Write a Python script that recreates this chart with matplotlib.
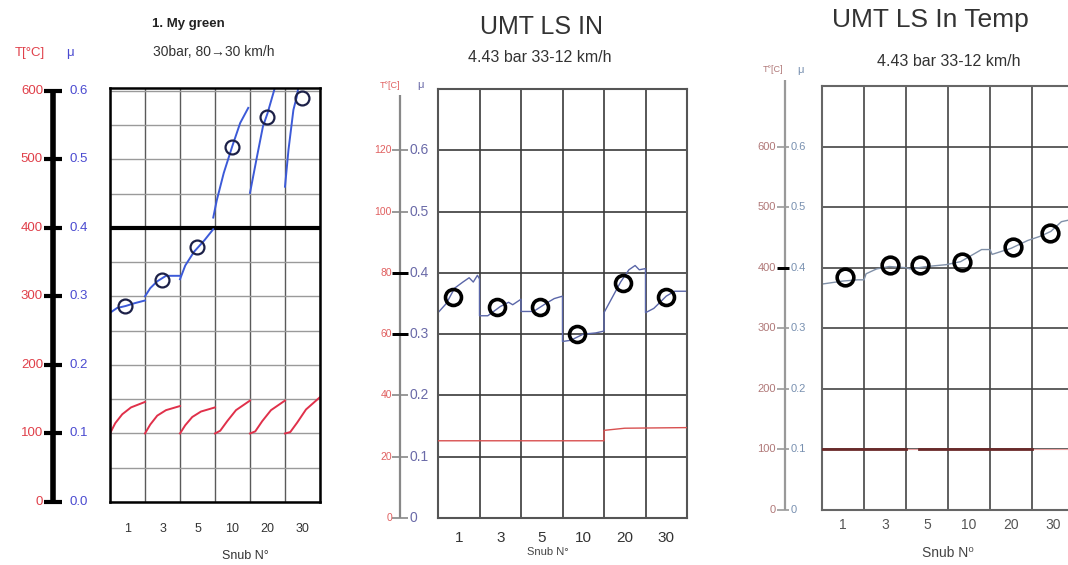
import matplotlib
matplotlib.use("Agg")
import matplotlib.pyplot as plt
from matplotlib.transforms import blended_transform_factory

W, H = 1068, 565
plt.rcParams['font.family'] = ['Liberation Sans', 'DejaVu Sans']

snubs = ["1", "3", "5", "10", "20", "30"]

# ---- panel 1 : My green (mu + disc temperature per snub)
p1_mu_ticks = [0.0, 0.1, 0.2, 0.3, 0.4, 0.5, 0.6]
p1_T_labels = ["0", "100", "200", "300", "400", "500", "600"]
p1_mu_labels = ["0.0", "0.1", "0.2", "0.3", "0.4", "0.5", "0.6"]
p1_seg_x = [[0.0, 0.2, 0.45, 0.7, 1.0],
            [1.0, 1.15, 1.35, 1.6, 2.0],
            [2.0, 2.15, 2.4, 2.7, 2.95],
            [2.95, 3.05, 3.25, 3.5, 3.72, 3.95],
            [4.0, 4.2, 4.37, 4.5, 4.72],
            [5.0, 5.1, 5.24, 5.33, 5.4]]
p1_seg_mu = [[0.276, 0.283, 0.286, 0.290, 0.294],
             [0.300, 0.312, 0.322, 0.330, 0.330],
             [0.325, 0.345, 0.365, 0.382, 0.398],
             [0.415, 0.440, 0.480, 0.520, 0.553, 0.575],
             [0.451, 0.504, 0.548, 0.567, 0.606],
             [0.460, 0.514, 0.572, 0.590, 0.610]]
p1_circ_x = [0.43, 1.49, 2.49, 3.49, 4.49, 5.49]
p1_circ_mu = [0.286, 0.324, 0.372, 0.518, 0.562, 0.590]
p1_T_frac = [0.0, 0.15, 0.35, 0.6, 1.0]
p1_T = [[100, 115, 128, 138, 146],
        [100, 113, 126, 134, 140],
        [100, 112, 124, 132, 138],
        [100, 104, 118, 134, 148],
        [100, 103, 118, 134, 148],
        [100, 102, 116, 135, 153]]

# ---- panel 2 : UMT LS IN
p2_mu_ticks = [0.0, 0.1, 0.2, 0.3, 0.4, 0.5, 0.6]
p2_T_labels = ["0", "20", "40", "60", "80", "100", "120"]
p2_mu_labels = ["0", "0.1", "0.2", "0.3", "0.4", "0.5", "0.6"]
p2_x = [0.0, 0.2, 0.4, 0.6, 0.75, 0.85, 0.95, 1.0,
        1.0, 1.2, 1.5, 1.7, 1.8, 2.0,
        2.0, 2.3, 2.6, 2.8, 3.0,
        3.0, 3.2, 3.5, 3.8, 4.0,
        4.0, 4.2, 4.4, 4.6, 4.75, 4.85, 5.0,
        5.0, 5.2, 5.5, 5.7, 6.0]
p2_mu = [0.335, 0.350, 0.375, 0.385, 0.392, 0.385, 0.396, 0.390,
         0.330, 0.330, 0.345, 0.352, 0.348, 0.357,
         0.337, 0.337, 0.350, 0.358, 0.362,
         0.288, 0.290, 0.300, 0.302, 0.305,
         0.335, 0.360, 0.385, 0.405, 0.412, 0.405, 0.407,
         0.335, 0.342, 0.362, 0.370, 0.370]
p2_circ_x = [0.35, 1.42, 2.45, 3.35, 4.45, 5.5]
p2_circ_mu = [0.360, 0.345, 0.345, 0.300, 0.384, 0.360]
p2_T_x = [0.0, 4.0, 4.0, 4.5, 6.0]
p2_T = [25.2, 25.2, 28.6, 29.3, 29.5]

# ---- panel 3 : UMT LS In Temp
p3_mu_ticks = [0.0, 0.1, 0.2, 0.3, 0.4, 0.5, 0.6]
p3_T_labels = ["0", "100", "200", "300", "400", "500", "600"]
p3_mu_labels = ["0", "0.1", "0.2", "0.3", "0.4", "0.5", "0.6"]
p3_x = [0.0, 0.5, 0.85, 1.0, 1.05, 1.3, 1.6, 2.0, 2.1, 2.5, 2.95, 3.3,
        3.55, 3.8, 4.0, 4.05, 4.5, 4.9, 5.2, 5.45, 5.7, 5.9]
p3_mu = [0.373, 0.378, 0.380, 0.380, 0.390, 0.398, 0.402, 0.400, 0.398, 0.402,
         0.405, 0.410, 0.420, 0.430, 0.430, 0.422, 0.432, 0.445, 0.452, 0.460,
         0.476, 0.479]
p3_circ_x = [0.55, 1.62, 2.33, 3.33, 4.55, 5.43]
p3_circ_mu = [0.385, 0.405, 0.405, 0.410, 0.435, 0.458]
p3_T_x = [0.0, 2.0, 2.0, 2.3, 2.3, 5.0]
p3_T = [100, 100, None, None, 100, 100]


def fx(px):
    return px / W


def fy(py):
    return 1 - py / H


def box(x0, y0, x1, y1):
    return [fx(x0), fy(y1), (x1 - x0) / W, (y1 - y0) / H]


fig = plt.figure(figsize=(W / 100, H / 100), dpi=100)
fig.patch.set_facecolor('white')


def frame(ax, ymax, hstep, gcol, glw, tick_pad, tick_fs, tick_col, spine_col, spine_lw):
    ax.set_xlim(0, 6)
    ax.set_ylim(0, ymax)
    ax.set_xticks([i + 0.5 for i in range(6)])
    ax.set_xticklabels(snubs, fontsize=tick_fs, color=tick_col)
    ax.set_xticks(range(7), minor=True)
    ax.tick_params(axis='x', which='both', length=0, pad=tick_pad)
    n = int(round(ymax / hstep))
    ax.set_yticks([hstep * k for k in range(n + 1)])
    ax.set_yticklabels([])
    ax.tick_params(axis='y', length=0)
    ax.grid(True, axis='y', color=gcol, lw=glw)
    ax.grid(True, axis='x', which='minor', color=gcol, lw=glw)
    ax.set_axisbelow(True)
    for s in ax.spines.values():
        s.set_color(spine_col)
        s.set_linewidth(spine_lw)


def scale(ax, ticks, tlab, mlab, axis_px, rx, bx, top, tick_x, fs_r, fs_b,
          col_r, col_b, axis_col, axis_lw, tick_lw, bold_ticks=()):
    tr = blended_transform_factory(fig.transFigure, ax.transData)
    ax.plot([fx(axis_px), fx(axis_px)], [0, top], color=axis_col, lw=axis_lw,
            transform=tr, clip_on=False, solid_capstyle='butt')
    for v, a, b in zip(ticks, tlab, mlab):
        c, lw = (('black', tick_lw * 1.8) if v in bold_ticks else (axis_col, tick_lw))
        ax.plot([fx(tick_x[0]), fx(tick_x[1])], [v, v], color=c, lw=lw,
                transform=tr, clip_on=False, solid_capstyle='butt')
        ax.text(fx(rx), v, a, transform=tr, ha='right', va='center',
                fontsize=fs_r, color=col_r)
        ax.text(fx(bx), v, b, transform=tr, ha='left', va='center',
                fontsize=fs_b, color=col_b)


# ================= panel 1
ax1 = fig.add_axes(box(110, 88, 320, 502))
frame(ax1, 0.604, 0.05, '#9a9a9a', 1.0, 15, 9, '#333333', 'black', 1.8)
ax1.grid(True, axis='x', which='minor', color='#5a5a5a', lw=1.0)
ax1.axhline(0.4, color='black', lw=3)
for i in range(6):
    ax1.plot([i + f for f in p1_T_frac], [t / 1000 for t in p1_T[i]],
             color='#e0304a', lw=1.4)
for xs, ms in zip(p1_seg_x, p1_seg_mu):
    ax1.plot(xs, ms, color='#3c5ad8', lw=1.4)
ax1.plot(p1_circ_x, p1_circ_mu, 'o', ms=10, mfc='none', mec='#1c2048', mew=1.6)
scale(ax1, p1_mu_ticks, p1_T_labels, p1_mu_labels, 53, 43, 70, 0.6, (44, 62),
      9.5, 9.5, '#e0404a', '#4a4ad0', 'black', 4, 3)
fig.text(fx(188), fy(24), "1. My green", ha='center', va='center',
         fontsize=9.5, fontweight='bold', color='#222222')
fig.text(fx(214), fy(52), "30bar, 80\u219230 km/h", ha='center', va='center',
         fontsize=10, color='#333333')
fig.text(fx(30), fy(53), "T[\u00b0C]", ha='center', va='center',
         fontsize=9.5, color='#e0404a')
fig.text(fx(70), fy(53), "\u03bc", ha='center', va='center',
         fontsize=9.5, color='#4a4ad0')
fig.text(fx(245), fy(556), "Snub N\u00b0", ha='center', va='center',
         fontsize=9, color='#333333')

# ================= panel 2
ax2 = fig.add_axes(box(438, 89, 687, 518))
frame(ax2, 0.7, 0.1, '#3a3a3a', 1.2, 9, 11, '#333333', '#555555', 1.5)
ax2t = ax2.twinx()
ax2t.set_ylim(0, 0.7 * 200)
ax2t.axis('off')
ax2t.plot(p2_T_x, p2_T, color='#d85050', lw=1.0)
ax2.plot(p2_x, p2_mu, color='#5a66a8', lw=1.0)
ax2.plot(p2_circ_x, p2_circ_mu, 'o', ms=11.5, mfc='none', mec='black', mew=2.6,
         zorder=5)
scale(ax2, p2_mu_ticks, p2_T_labels, p2_mu_labels, 400, 392, 409, 0.69, (392, 408),
      7.5, 10, '#e06060', '#6a6aa8', '#888888', 1.6, 1.2, bold_ticks=(0.3, 0.4))
fig.text(fx(541), fy(27), "UMT LS IN", ha='center', va='center',
         fontsize=18, color='#333333')
fig.text(fx(540), fy(57), "4.43 bar 33-12 km/h", ha='center', va='center',
         fontsize=11.5, color='#333333')
fig.text(fx(390), fy(85), "T\u00b0[C]", ha='center', va='center',
         fontsize=6.5, color='#e06060')
fig.text(fx(420), fy(85), "\u03bc", ha='center', va='center',
         fontsize=8, color='#6a6aa8')
fig.text(fx(548), fy(552), "Snub N\u00b0", ha='center', va='center',
         fontsize=8, color='#444444')

# ================= panel 3 (cut at the right edge)
ax3 = fig.add_axes(box(822, 86, 1074, 510))
frame(ax3, 0.7, 0.1, '#444444', 1.2, 6, 10, '#555555', '#666666', 1.5)
ax3t = ax3.twinx()
ax3t.set_ylim(0, 0.7 * 1000)
ax3t.axis('off')
ax3t.axhline(100, color='#e8a0a0', lw=0.8)
ax3t.plot(p3_T_x, [float('nan') if t is None else t for t in p3_T],
          color='#6a2a2a', lw=2.0)
ax3.plot(p3_x, p3_mu, color='#8090a8', lw=1.0)
ax3.plot(p3_circ_x, p3_circ_mu, 'o', ms=12, mfc='none', mec='black', mew=2.6,
         zorder=5)
scale(ax3, p3_mu_ticks, p3_T_labels, p3_mu_labels, 785, 776, 791, 0.71, (777, 789),
      8, 8, '#b07878', '#7890b0', '#999999', 1.6, 1.2, bold_ticks=(0.4,))
fig.text(fx(930), fy(20), "UMT LS In Temp", ha='center', va='center',
         fontsize=19, color='#333333')
fig.text(fx(949), fy(61), "4.43 bar 33-12 km/h", ha='center', va='center',
         fontsize=11.5, color='#333333')
fig.text(fx(773), fy(70), "T\u00b0[C]", ha='center', va='center',
         fontsize=6.5, color='#b07878')
fig.text(fx(800), fy(70), "\u03bc", ha='center', va='center',
         fontsize=8, color='#7890b0')
fig.text(fx(948), fy(553), "Snub N\u2070", ha='center', va='center',
         fontsize=10, color='#444444')

fig.savefig("out.png", dpi=100)
